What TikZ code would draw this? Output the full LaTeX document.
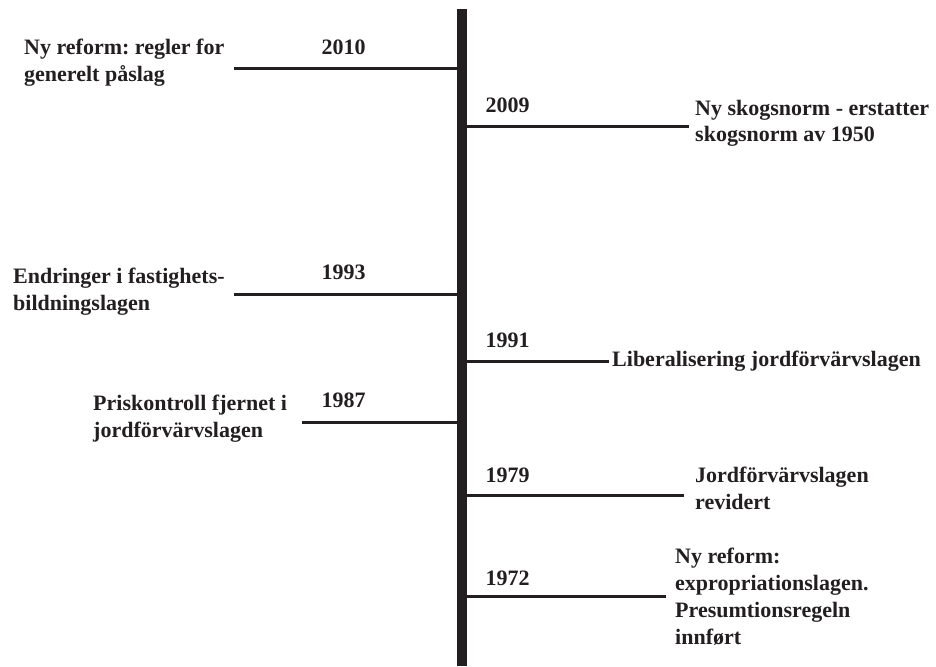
\documentclass[tikz,border=0pt]{standalone}
\usepackage{fontspec}
\setmainfont{Liberation Serif}
\definecolor{ink}{HTML}{231F20}
\frenchspacing
\begin{document}
\begin{tikzpicture}[x=1pt,y=-1pt,
  tick/.style={draw=ink,line width=3pt},
  axisbar/.style={draw=ink,line width=9.4pt},
  yearlbl/.style={anchor=base,inner sep=0pt,text=ink,font=\fontsize{22}{27}\selectfont\bfseries},
  evlbl/.style={anchor=base west,inner sep=0pt,text=ink,font=\fontsize{22}{27}\selectfont\bfseries\frenchspacing}]
\useasboundingbox (0,0) rectangle (936,666);
% axis
\coordinate (top) at (461.9,9);
\coordinate (bot) at (461.9,666);
\draw[axisbar] (top) -- (bot);
% branch coordinates
\coordinate (b2010) at (461.9,68.5);  \coordinate (e2010) at (234,68.5);
\coordinate (b2009) at (461.9,126);   \coordinate (e2009) at (689,126);
\coordinate (b1993) at (461.9,294.5); \coordinate (e1993) at (234,294.5);
\coordinate (b1991) at (461.9,361);   \coordinate (e1991) at (609,361);
\coordinate (b1987) at (461.9,422.5); \coordinate (e1987) at (302,422.5);
\coordinate (b1979) at (461.9,495);   \coordinate (e1979) at (684,495);
\coordinate (b1972) at (461.9,596);   \coordinate (e1972) at (666,596);
\foreach \y in {2010,2009,1993,1991,1987,1979,1972}{\draw[tick] (e\y) -- (b\y);}
% years
\node[yearlbl] (y2010) at (343.5,55) {2010};
\node[yearlbl] (y1993) at (343.5,279) {1993};
\node[yearlbl] (y1987) at (343.5,407) {1987};
\node[yearlbl] (y2009) at (507.5,113) {2009};
\node[yearlbl] (y1991) at (507.5,347) {1991};
\node[yearlbl] (y1979) at (507.5,482) {1979};
\node[yearlbl] (y1972) at (507.5,585) {1972};
% event labels
\node[evlbl] (l2010) at (24,55) {\begin{tabular}[t]{@{}l@{}}Ny reform: regler for\\generelt påslag\end{tabular}};
\node[evlbl] (l2009) at (695,115) {\begin{tabular}[t]{@{}l@{}}Ny skogsnorm - erstatter\\skogsnorm av 1950\end{tabular}};
\node[evlbl] (l1993) at (13,283) {\begin{tabular}[t]{@{}l@{}}Endringer i fastighets-\\bildningslagen\end{tabular}};
\node[evlbl] (l1987) at (93,410) {\begin{tabular}[t]{@{}l@{}}Priskontroll fjernet i\\jordförvärvslagen\end{tabular}};
\node[evlbl] (l1991) at (612,366) {Liberalisering jordförvärvslagen};
\node[evlbl] (l1979) at (695,482) {\begin{tabular}[t]{@{}l@{}}Jordförvärvslagen\\revidert\end{tabular}};
\node[evlbl] (l1972) at (675,563) {\begin{tabular}[t]{@{}l@{}}Ny reform:\\expropriationslagen.\\Presumtionsregeln\\innført\end{tabular}};
\end{tikzpicture}
\end{document}
